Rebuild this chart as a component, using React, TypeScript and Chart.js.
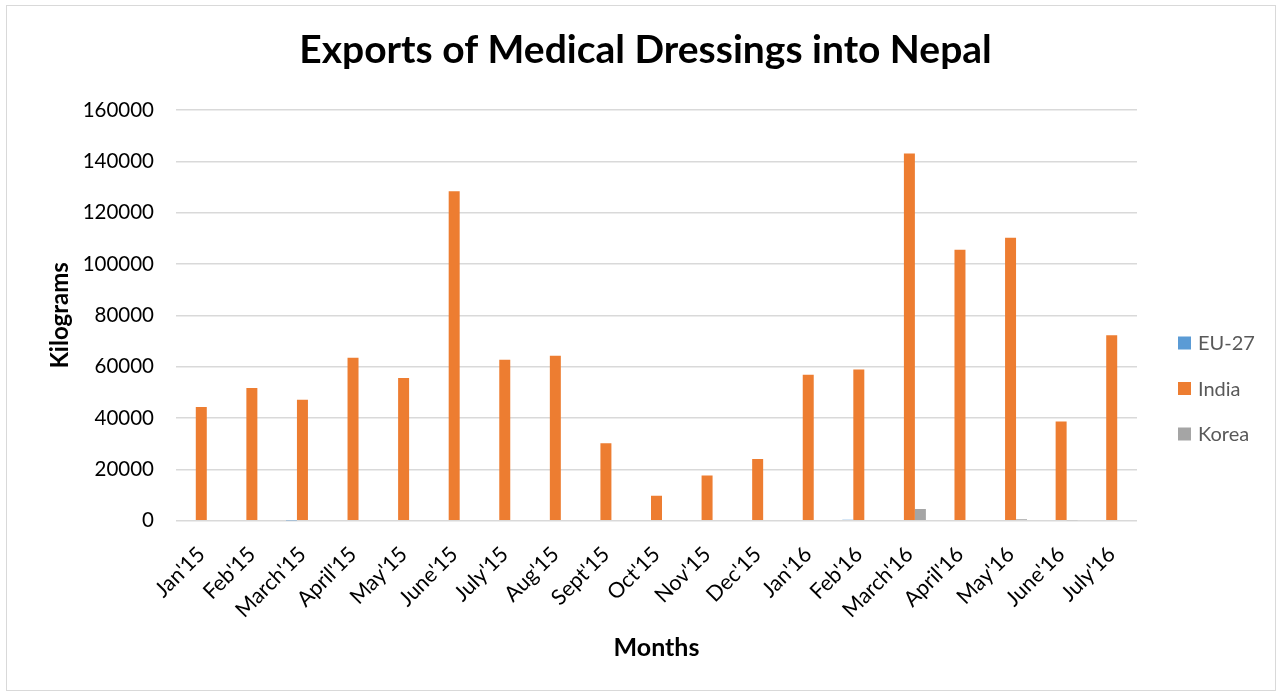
import React, { useEffect, useRef } from "react";
import { Chart, registerables } from "chart.js";

Chart.register(...registerables);

const months = [
  "Jan'15", "Feb'15", "March'15", "April'15", "May'15", "June'15", "July'15",
  "Aug'15", "Sept'15", "Oct'15", "Nov'15", "Dec'15", "Jan'16", "Feb'16",
  "March'16", "April'16", "May'16", "June'16", "July'16",
];

const eu27 = [0, 0, 100, 0, 0, 300, 0, 0, 0, 0, 300, 0, 0, 400, 0, 0, 0, 0, 0];

const india = [
  44300, 51700, 47100, 63500, 55600, 128300, 62700, 64300, 30200, 9700,
  17600, 24000, 56900, 58900, 143100, 105600, 110200, 38600, 72200,
];

const korea = [0, 0, 0, 0, 0, 0, 0, 0, 0, 0, 0, 0, 0, 0, 4600, 250, 600, 150, 0];

const yMin = 0;
const yMax = 160000;
const yStep = 20000;

const titleText = "Exports of Medical Dressings into Nepal";
const yTitle = "Kilograms";
const xTitle = "Months";

const COLORS = {
  eu: "#5B9BD5",
  india: "#ED7D31",
  korea: "#A5A5A5",
};

const sideLegend = {
  id: "sideLegend",
  afterDraw(chart: any) {
    const { ctx, chartArea } = chart;
    const x = chartArea.right + 41;
    const firstY = chartArea.top + 233;
    const gap = 45.5;
    const box = 13;
    ctx.save();
    ctx.font = "20px Lato";
    ctx.textBaseline = "middle";
    ctx.textAlign = "left";
    chart.data.datasets.forEach((ds: any, i: number) => {
      const cy = firstY + i * gap;
      ctx.fillStyle = ds.backgroundColor;
      ctx.fillRect(x, cy - box / 2, box, box);
      ctx.fillStyle = "#595959";
      ctx.fillText(ds.label, x + 20, cy + 1);
    });
    ctx.restore();
  },
};

export default function App() {
  const ref = useRef<HTMLCanvasElement>(null);

  useEffect(() => {
    if (!ref.current) return;
    Chart.defaults.font.family = "Lato";
    const chart = new Chart(ref.current, {
      type: "bar",
      data: {
        labels: months,
        datasets: [
          { label: "EU-27", data: eu27, backgroundColor: COLORS.eu, borderWidth: 0, yAxisID: "y" },
          { label: "India", data: india, backgroundColor: COLORS.india, borderWidth: 0, yAxisID: "y" },
          { label: "Korea", data: korea, backgroundColor: COLORS.korea, borderWidth: 0, yAxisID: "y" },
        ],
      },
      options: {
        responsive: false,
        animation: false,
        devicePixelRatio: 1,
        layout: { padding: { left: 38, right: 28, top: 8, bottom: 20 } },
        datasets: {
          bar: { categoryPercentage: 0.652, barPercentage: 1 },
        },
        plugins: {
          legend: { display: false },
          tooltip: { enabled: false },
          title: {
            display: true,
            text: titleText,
            color: "#000",
            font: { size: 39, weight: "bold", family: "Lato" },
            padding: { top: 18.6, bottom: 36.6 },
          },
        },
        scales: {
          x: {
            grid: { display: false },
            border: { display: false },
            ticks: {
              color: "#000",
              font: { size: 21.5, family: "Lato" },
              minRotation: 45,
              maxRotation: 45,
              autoSkip: false,
              padding: 13,
            },
            title: {
              display: true,
              text: xTitle,
              color: "#000",
              font: { size: 25, weight: "bold", family: "Lato" },
              padding: { top: 0, bottom: 11 },
            },
            afterFit(scale: any) {
              scale.height = 153.3;
            },
          },
          y: {
            min: yMin,
            max: yMax,
            ticks: {
              stepSize: yStep,
              color: "#000",
              font: { size: 20.5, family: "Lato" },
              padding: 22,
              callback: (v: any) => String(v),
            },
            grid: { color: "#d9d9d9", lineWidth: 1.5, drawTicks: false },
            border: { display: false },
            title: {
              display: true,
              text: yTitle,
              color: "#000",
              font: { size: 24, weight: "bold", family: "Lato" },
              padding: { top: 7.6, bottom: 0 },
            },
            afterFit(scale: any) {
              scale.width = 138;
            },
          },
          legendSpace: {
            type: "linear",
            position: "right",
            display: true,
            grid: { display: false, drawTicks: false },
            border: { display: false },
            ticks: { display: false },
            afterFit(scale: any) {
              scale.width = 116;
            },
          },
        },
      },
      plugins: [sideLegend],
    });
    return () => chart.destroy();
  }, []);

  return (
    <div style={{ position: "fixed", left: 0, top: 0, width: 1281, height: 694, background: "#fff" }}>
      <canvas ref={ref} width={1281} height={694} style={{ display: "block" }} />
      <div
        style={{
          position: "absolute",
          left: 6,
          top: 5,
          width: 1268,
          height: 684,
          border: "1px solid #d9d9d9",
          pointerEvents: "none",
        }}
      />
    </div>
  );
}
